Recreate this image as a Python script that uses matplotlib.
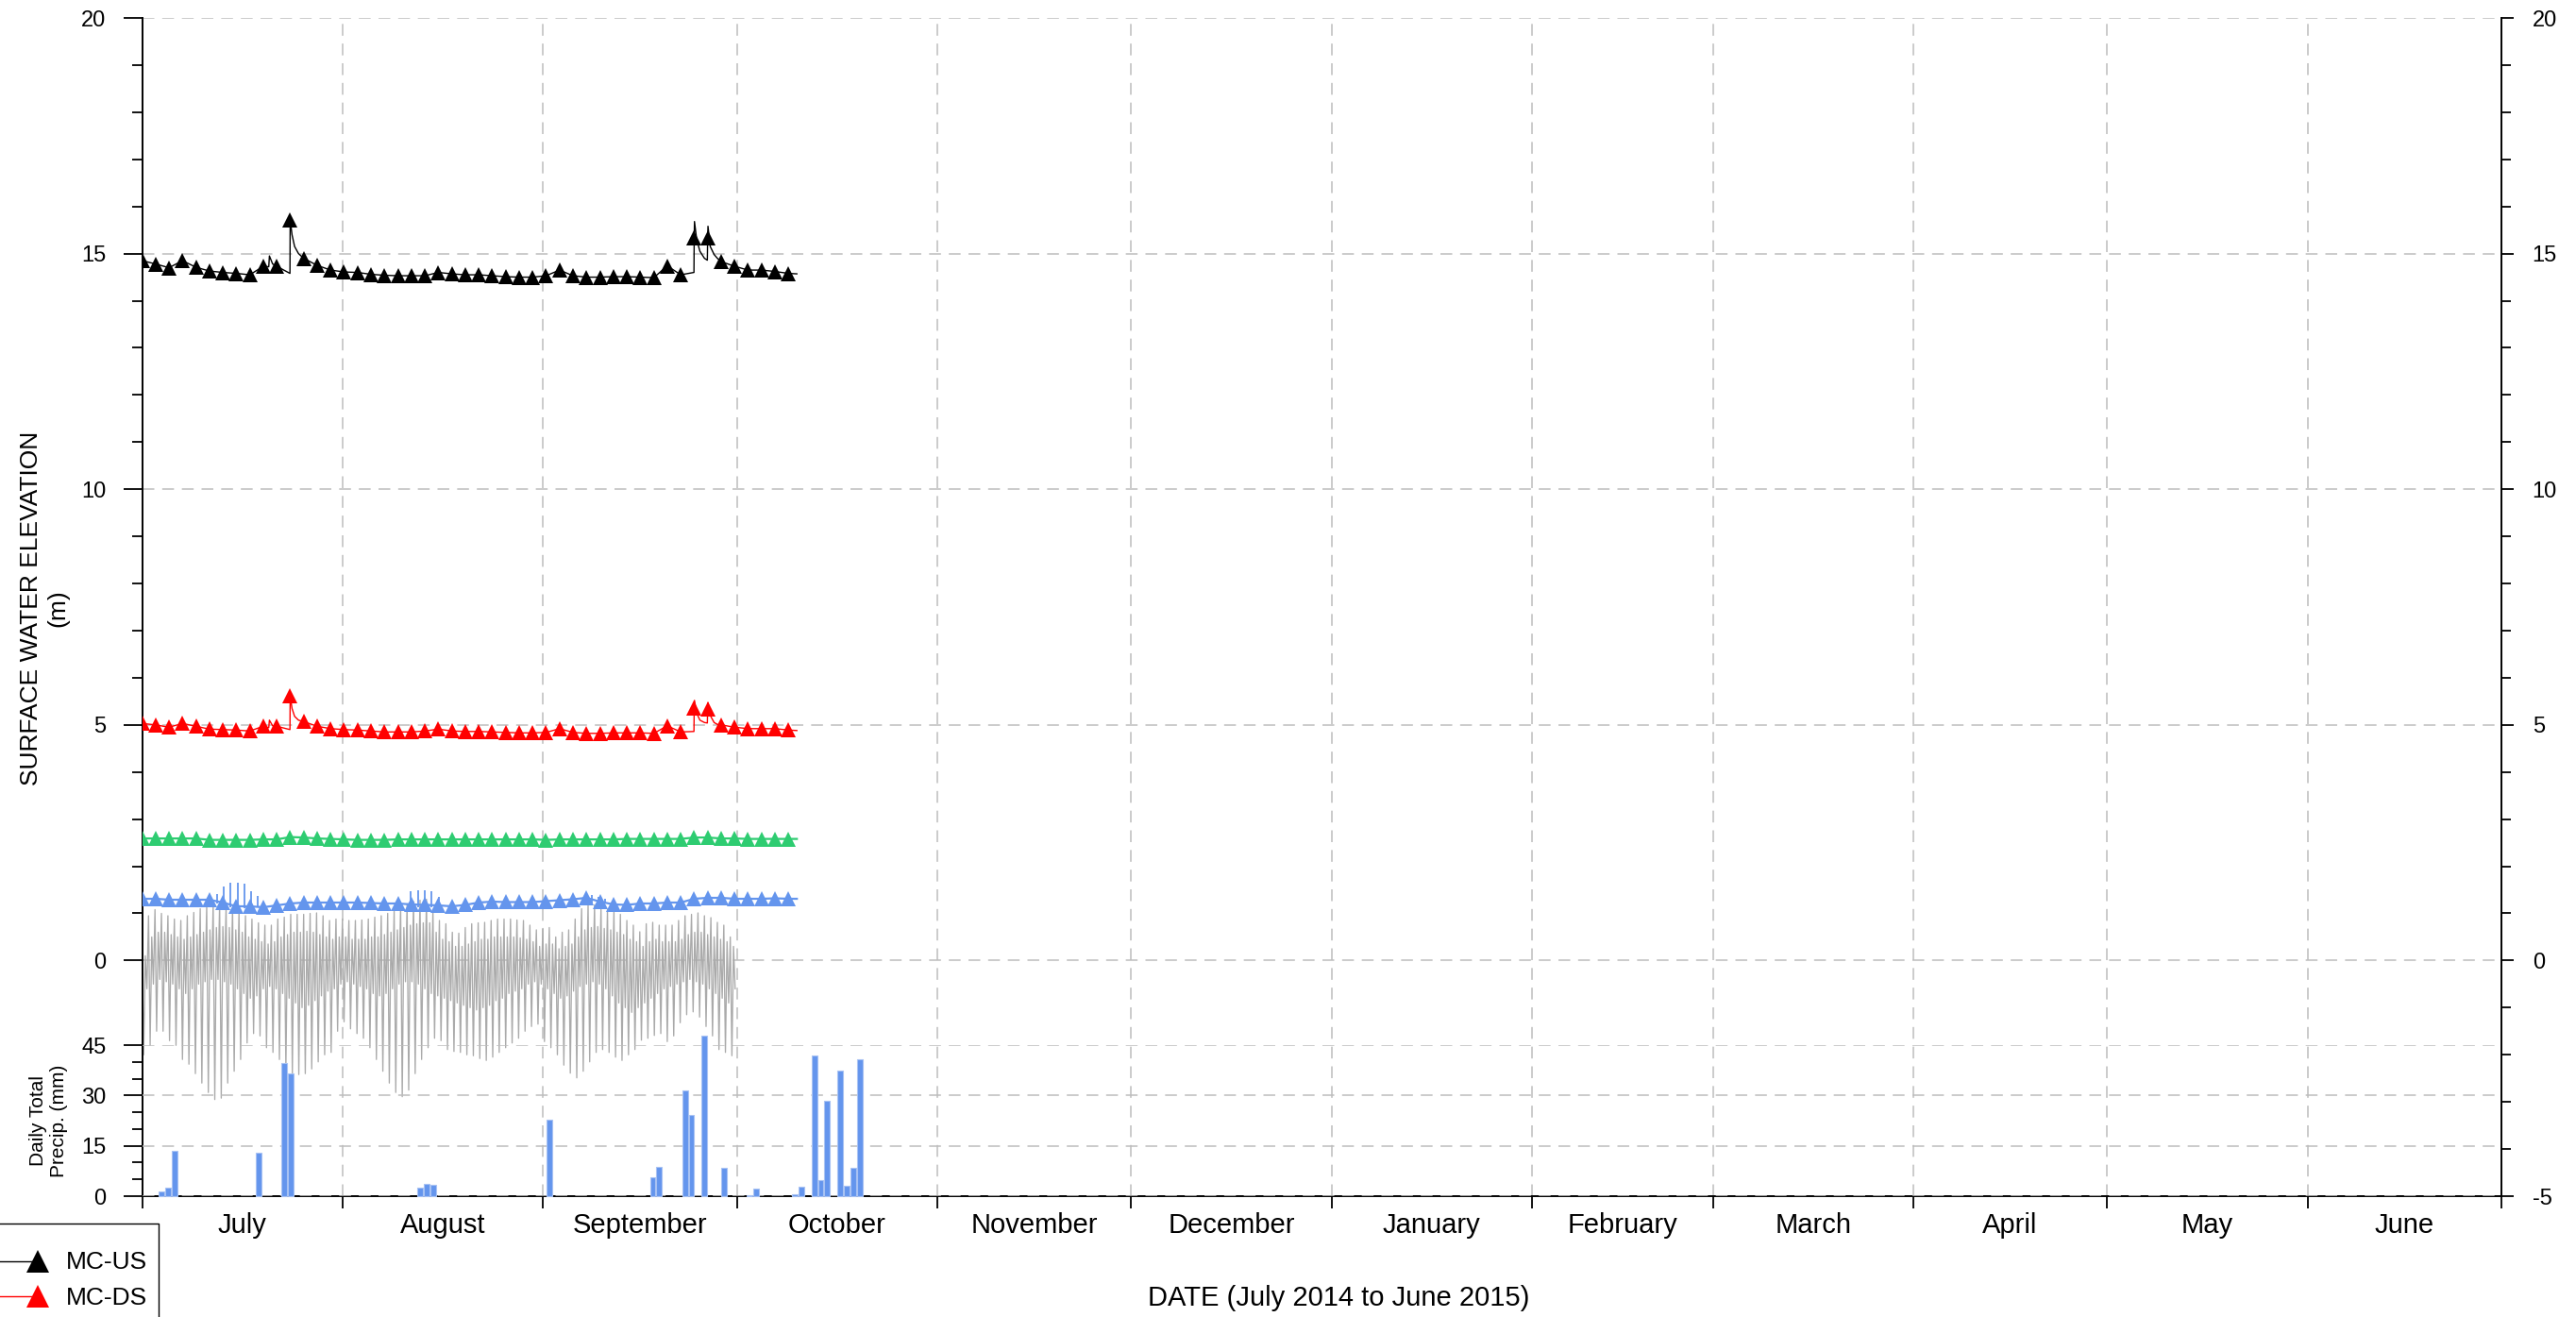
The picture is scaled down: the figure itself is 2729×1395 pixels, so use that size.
import numpy as np
import pandas as pd
import matplotlib
matplotlib.use('Agg')
import matplotlib.pyplot as plt
from matplotlib import font_manager as fm
from matplotlib.ticker import FixedLocator, NullFormatter, FixedFormatter
from matplotlib.lines import Line2D
from matplotlib.legend_handler import HandlerBase

# ---------------------------------------------------------------- data
month_labels = ['July', 'August', 'September', 'October', 'November', 'December',
                'January', 'February', 'March', 'April', 'May', 'June']
start = pd.Timestamp('2014-07-01')
month_starts = pd.date_range('2014-07-01', '2015-07-01', freq='MS')
month_days = np.asarray((month_starts - start).days, dtype=float)

# logger readings shown with markers (every 50 h from 1 July 2014), days since 1 July
mark_days = np.arange(49) * 50 / 24.0

us_vals = [14.85, 14.78, 14.70, 14.85, 14.71, 14.63, 14.60, 14.58, 14.55, 14.73,
           14.73, 15.72, 14.90, 14.75, 14.65, 14.61, 14.60, 14.56, 14.54, 14.53,
           14.53, 14.53, 14.60, 14.57, 14.55, 14.55, 14.53, 14.51, 14.50, 14.50,
           14.53, 14.65, 14.53, 14.50, 14.50, 14.51, 14.51, 14.50, 14.49, 14.74,
           14.55, 15.33, 15.33, 14.83, 14.73, 14.65, 14.65, 14.62, 14.58]
# extra (storm response) readings between markers
us_extra_days = [19.6, 19.7, 20.2, 22.88, 23.2, 23.6, 24.2, 85.38, 85.46, 85.8, 86.3, 87.0,
                 87.45, 87.55, 87.9, 88.5, 89.0, 101.3]
us_extra_vals = [14.72, 14.95, 14.78, 14.58, 15.40, 15.15, 15.00, 14.60, 15.68, 15.30, 15.05, 14.90,
                 14.86, 15.58, 15.15, 14.98, 14.90, 14.57]

ds_vals = [5.03, 5.00, 4.95, 5.03, 4.97, 4.91, 4.90, 4.89, 4.87, 4.97,
           4.97, 5.62, 5.07, 4.97, 4.92, 4.90, 4.89, 4.87, 4.85, 4.85,
           4.85, 4.87, 4.91, 4.87, 4.86, 4.86, 4.85, 4.84, 4.83, 4.83,
           4.84, 4.92, 4.84, 4.82, 4.82, 4.83, 4.83, 4.83, 4.82, 4.98,
           4.85, 5.35, 5.33, 5.00, 4.95, 4.92, 4.92, 4.92, 4.89]
ds_extra_days = us_extra_days
ds_extra_vals = [4.94, 5.10, 4.98, 4.90, 5.35, 5.18, 5.10, 4.86, 5.52, 5.25, 5.10, 5.05,
                 5.04, 5.47, 5.20, 5.05, 5.01, 4.88]

green_vals = [2.59, 2.59, 2.59, 2.59, 2.59, 2.56, 2.56, 2.56, 2.56, 2.57,
              2.57, 2.62, 2.61, 2.59, 2.58, 2.57, 2.56, 2.56, 2.56, 2.57,
              2.57, 2.57, 2.57, 2.57, 2.57, 2.57, 2.57, 2.57, 2.57, 2.57,
              2.56, 2.57, 2.57, 2.57, 2.57, 2.57, 2.58, 2.58, 2.58, 2.58,
              2.58, 2.61, 2.61, 2.59, 2.59, 2.58, 2.58, 2.58, 2.58]
green_end = (101.3, 2.58)

blue_vals = [1.31, 1.31, 1.29, 1.29, 1.29, 1.29, 1.23, 1.15, 1.15, 1.13,
             1.17, 1.21, 1.23, 1.23, 1.23, 1.23, 1.23, 1.22, 1.21, 1.21,
             1.19, 1.18, 1.17, 1.15, 1.18, 1.23, 1.25, 1.24, 1.24, 1.24,
             1.26, 1.28, 1.30, 1.33, 1.25, 1.19, 1.18, 1.21, 1.21, 1.23,
             1.23, 1.31, 1.33, 1.33, 1.31, 1.31, 1.31, 1.32, 1.31]
blue_end = (101.3, 1.31)
blue_spike_days = [11.6, 12.7, 13.7, 14.8, 15.8, 16.9, 17.9, 41.5, 42.7, 43.7, 44.7, 45.9,
                   68.8, 69.6, 70.6, 71.7]
blue_spike_top = [1.41, 1.58, 1.65, 1.66, 1.63, 1.48, 1.38, 1.48, 1.50, 1.50, 1.48, 1.35,
                  1.38, 1.39, 1.35, 1.31]
blue_spike_base = [1.20, 1.15, 1.12, 1.10, 1.10, 1.10, 1.12, 1.15, 1.12, 1.12, 1.12, 1.15,
                   1.20, 1.20, 1.22, 1.22]

# tidal gauge: daily higher-high, lower-low, lower-high, higher-low (1 Jul - 30 Sep)
tide_hh = [0.30, 0.95, 1.08, 1.00, 0.95, 0.88, 0.85, 0.95, 1.02, 1.10,
           1.15, 1.18, 1.20, 1.15, 1.10, 1.05, 0.95, 0.88, 0.80, 0.75,
           0.75, 0.88, 0.92, 0.98, 0.98, 0.98, 1.00, 1.01, 0.95, 0.85,
           0.88, 0.88, 0.85, 0.85, 0.86, 0.88, 0.92, 0.95, 1.00, 1.05,
           1.15, 1.20, 1.25, 1.28, 1.30, 1.05, 0.85, 0.78, 0.60, 0.58,
           0.70, 0.78, 0.80, 0.81, 0.85, 0.88, 0.88, 0.88, 0.86, 0.85,
           0.75, 0.65, 0.68, 0.70, 0.50, 0.60, 0.65, 0.88, 1.10, 1.18,
           1.18, 1.11, 1.08, 1.05, 0.98, 0.85, 0.75, 0.61, 0.78, 0.81,
           0.75, 0.75, 0.75, 0.85, 0.95, 0.98, 1.01, 0.95, 0.91, 0.81,
           0.75, 0.50]
tide_ll = [-2.00, -1.80, -1.50, -1.50, -1.70, -1.80, -2.10, -2.20, -2.40, -2.60,
           -2.80, -2.95, -2.92, -2.60, -2.35, -2.10, -1.75, -1.55, -1.60, -1.85,
           -1.95, -2.10, -2.30, -2.40, -2.42, -2.40, -2.30, -2.15, -2.00, -1.95,
           -1.50, -1.30, -1.45, -1.55, -1.65, -1.85, -2.10, -2.35, -2.60, -2.80,
           -2.89, -2.75, -2.40, -2.10, -1.85, -1.65, -1.70, -1.89, -1.93, -1.95,
           -2.00, -2.02, -2.08, -2.12, -2.05, -1.95, -1.85, -1.75, -1.65, -1.50,
           -1.40, -1.35, -1.72, -1.85, -2.00, -2.22, -2.39, -2.49, -2.35, -2.15,
           -1.95, -1.89, -1.95, -2.05, -2.12, -2.00, -1.89, -1.69, -1.65, -1.59,
           -1.55, -1.72, -1.60, -1.32, -1.15, -1.09, -1.20, -1.40, -1.60, -1.89,
           -1.95, -2.02]
tide_lh = [0.10, 0.50, 0.60, 0.60, 0.55, 0.50, 0.45, 0.50, 0.55, 0.60,
           0.65, 0.70, 0.72, 0.70, 0.65, 0.60, 0.50, 0.45, 0.40, 0.35,
           0.40, 0.50, 0.55, 0.60, 0.60, 0.62, 0.60, 0.55, 0.50, 0.45,
           0.50, 0.50, 0.45, 0.45, 0.45, 0.50, 0.50, 0.55, 0.60, 0.65,
           0.70, 0.75, 0.78, 0.80, 0.80, 0.60, 0.45, 0.40, 0.30, 0.30,
           0.35, 0.40, 0.45, 0.45, 0.50, 0.50, 0.50, 0.50, 0.48, 0.45,
           0.40, 0.30, 0.35, 0.35, 0.25, 0.30, 0.35, 0.50, 0.65, 0.70,
           0.72, 0.68, 0.65, 0.60, 0.55, 0.45, 0.40, 0.30, 0.40, 0.45,
           0.40, 0.40, 0.40, 0.45, 0.55, 0.60, 0.60, 0.55, 0.50, 0.45,
           0.40, 0.30]
tide_hl = [-0.60, -0.50, -0.40, -0.45, -0.50, -0.60, -0.70, -0.60, -0.50, -0.45,
           -0.40, -0.40, -0.45, -0.50, -0.60, -0.70, -0.80, -0.75, -0.60, -0.55,
           -0.60, -0.70, -0.80, -0.90, -1.00, -0.95, -0.85, -0.75, -0.65, -0.60,
           -0.50, -0.45, -0.50, -0.55, -0.60, -0.70, -0.75, -0.70, -0.60, -0.50,
           -0.45, -0.45, -0.50, -0.60, -0.70, -0.75, -0.80, -0.85, -0.90, -0.95,
           -1.00, -1.05, -1.00, -0.95, -0.85, -0.80, -0.70, -0.65, -0.60, -0.50,
           -0.45, -0.50, -0.60, -0.70, -0.80, -0.75, -0.65, -0.55, -0.50, -0.45,
           -0.50, -0.60, -0.75, -0.90, -1.00, -1.10, -1.00, -0.90, -0.80, -0.70,
           -0.60, -0.55, -0.50, -0.45, -0.40, -0.45, -0.50, -0.60, -0.70, -0.80,
           -0.90, -0.60]

# daily total precipitation (days since 1 July 2014, mm)
precip_days = [3, 4, 5, 18, 22, 23, 43, 44, 45, 63, 79, 80, 84, 85, 87, 90,
               94, 95, 101, 102, 104, 105, 106, 108, 109, 110, 111]
precip_mm = [1.4, 2.5, 13.6, 12.9, 39.6, 36.6, 2.5, 3.7, 3.3, 22.9, 5.7, 8.7, 31.5, 24.2, 47.7, 8.5,
             0.3, 2.2, 0.5, 2.7, 41.8, 4.9, 28.5, 37.3, 3.1, 8.3, 40.9]

# ---------------------------------------------------------------- fonts
def pick(fams):
    for f in fams:
        try:
            fm.findfont(fm.FontProperties(family=f), fallback_to_default=False)
            return f
        except Exception:
            pass
    return 'DejaVu Sans'

REG = pick(['Liberation Sans', 'Arial', 'DejaVu Sans'])
plt.rcParams['font.family'] = [REG, 'DejaVu Sans']
plt.rcParams['lines.scale_dashes'] = False
plt.rcParams['axes.unicode_minus'] = False

# ---------------------------------------------------------------- colours
C_US = 'black'
C_DS = '#FF0000'
C_GR = '#2ECC71'
C_BL = '#6495ED'
C_TIDE = '#AAAAAA'
C_GRID = '#BDBDBD'
DASH = (0, (9, 6))

W, H = 2729, 1395
fig = plt.figure(figsize=(W / 100, H / 100), dpi=100)
L = 150.5 / W
R = 2650 / W
B = 1 - 1267 / H
T = 1 - 19 / H
ax = fig.add_axes([L, B, R - L, T - B])
ax.set_xlim(month_days[0], month_days[-1])
ax.set_ylim(-5, 20)
ax.set_axisbelow(True)

for s in ('top', 'right'):
    ax.spines[s].set_visible(False)
for s in ('left', 'bottom'):
    ax.spines[s].set_linewidth(1.4)

# x axis
ax.xaxis.set_major_locator(FixedLocator(month_days))
ax.xaxis.set_major_formatter(NullFormatter())
mids = (month_days[:-1] + month_days[1:]) / 2
ax.xaxis.set_minor_locator(FixedLocator(mids))
ax.xaxis.set_minor_formatter(FixedFormatter(month_labels))
ax.tick_params(axis='x', which='major', direction='out', length=9.5, width=1.3)
ax.tick_params(axis='x', which='minor', length=0, pad=12, labelsize=21)

# left y axis
ax.yaxis.set_major_locator(FixedLocator([0, 5, 10, 15, 20]))
ax.yaxis.set_minor_locator(FixedLocator([v for v in range(0, 21) if v % 5]))
ax.tick_params(axis='y', which='major', length=14.5, width=1.3, pad=13, labelsize=17)
ax.tick_params(axis='y', which='minor', length=8, width=1.3)

ax.grid(True, axis='x', which='major', color=C_GRID, lw=1.1, linestyle=DASH)
ax.grid(True, axis='y', which='major', color=C_GRID, lw=1.1, linestyle=DASH)

# tidal series
tide_t, tide_v = [], []
for d in range(len(tide_hh)):
    tide_t += [d, d + 0.25, d + 0.5, d + 0.75]
    tide_v += [tide_hh[d], tide_ll[d], tide_lh[d], tide_hl[d]]
ax.plot(tide_t, tide_v, color=C_TIDE, lw=0.95, zorder=2)


def series(vals, extra_t, extra_v, color, lw=1.0):
    t = np.concatenate([mark_days, np.asarray(extra_t, float)])
    v = np.concatenate([np.asarray(vals, float), np.asarray(extra_v, float)])
    o = np.argsort(t, kind='stable')
    ax.plot(t[o], v[o], color=color, lw=lw, zorder=3)
    ax.plot(mark_days, vals, ls='none', marker='^', ms=11, color=color,
            markeredgewidth=0, zorder=4)


series(blue_vals, [blue_end[0]], [blue_end[1]], C_BL, lw=1.6)
ax.vlines(blue_spike_days, blue_spike_base, blue_spike_top, color=C_BL, lw=1.3, zorder=3)
series(green_vals, [green_end[0]], [green_end[1]], C_GR, lw=1.6)
series(ds_vals, ds_extra_days, ds_extra_vals, C_DS, lw=1.0)
series(us_vals, us_extra_days, us_extra_vals, C_US, lw=1.0)

# right axis
axr = ax.twinx()
axr.set_ylim(-5, 20)
for s in ('top', 'left', 'bottom'):
    axr.spines[s].set_visible(False)
axr.spines['right'].set_linewidth(1.4)
axr.yaxis.set_major_locator(FixedLocator([-5, 0, 5, 10, 15, 20]))
axr.yaxis.set_minor_locator(FixedLocator(list(range(-5, 21))))
axr.tick_params(axis='y', which='major', length=9.5, width=1.3, pad=14, labelsize=17)
axr.tick_params(axis='y', which='minor', length=7, width=1.3)

# precipitation inset
axp = fig.add_axes([L, B, R - L, 160 / H])
axp.patch.set_alpha(0)
axp.set_xlim(month_days[0], month_days[-1])
axp.set_ylim(0, 45)
for s in axp.spines.values():
    s.set_visible(False)
axp.set_xticks([])
axp.yaxis.set_major_locator(FixedLocator([0, 15, 30, 45]))
axp.yaxis.set_minor_locator(FixedLocator([5, 10, 20, 25, 35, 40]))
axp.tick_params(axis='y', which='major', length=14.5, width=1.3, pad=13, labelsize=17)
axp.tick_params(axis='y', which='minor', length=8, width=1.3)
axp.grid(True, axis='y', which='major', color=C_GRID, lw=1.1, linestyle=DASH)
axp.bar(precip_days, precip_mm, width=0.85, color=C_BL, edgecolor='#A8C2F3',
        linewidth=0.8, clip_on=False, zorder=3)

# labels
fig.text(47 / W, 1 - 644 / H, 'SURFACE WATER ELEVATION\n(m)', rotation=90,
         ha='center', va='center', fontsize=19, multialignment='center')
fig.text(52 / W, 1 - 1187 / H, 'Daily Total\nPrecip. (mm)', rotation=90,
         ha='center', va='center', fontsize=15, multialignment='center')
fig.text(1418 / W, 1 - 1375 / H, 'DATE (July 2014 to June 2015)', ha='center',
         va='center', fontsize=21)


# legend (partly outside the figure, as in the original)
class LeftLine(HandlerBase):
    def create_artists(self, legend, orig, xd, yd, w, h, fs, trans):
        y = h / 2 - yd
        x1 = -xd + w * 0.64
        ln = Line2D([-xd - 60, x1], [y, y], color=orig.get_color(), lw=1.0)
        mk = Line2D([x1], [y], marker='^', ms=17, color=orig.get_color(), ls='none',
                    markeredgewidth=0)
        ln.set_transform(trans)
        mk.set_transform(trans)
        return [ln, mk]


h_us = Line2D([], [], color=C_US)
h_ds = Line2D([], [], color=C_DS)
leg = fig.legend([h_us, h_ds], ['MC-US', 'MC-DS'], loc='upper right',
                 bbox_to_anchor=(168 / W, 1 - 1296 / H), bbox_transform=fig.transFigure,
                 frameon=True, fancybox=False, edgecolor='black', framealpha=1,
                 prop={'size': 19}, handlelength=2.6, handletextpad=0.2,
                 handleheight=1.15, title=' ', title_fontsize=2,
                 borderpad=0.45, labelspacing=0.4, borderaxespad=0,
                 handler_map={Line2D: LeftLine()})
leg.get_frame().set_linewidth(1.0)

fig.savefig('out.png', dpi=100)
